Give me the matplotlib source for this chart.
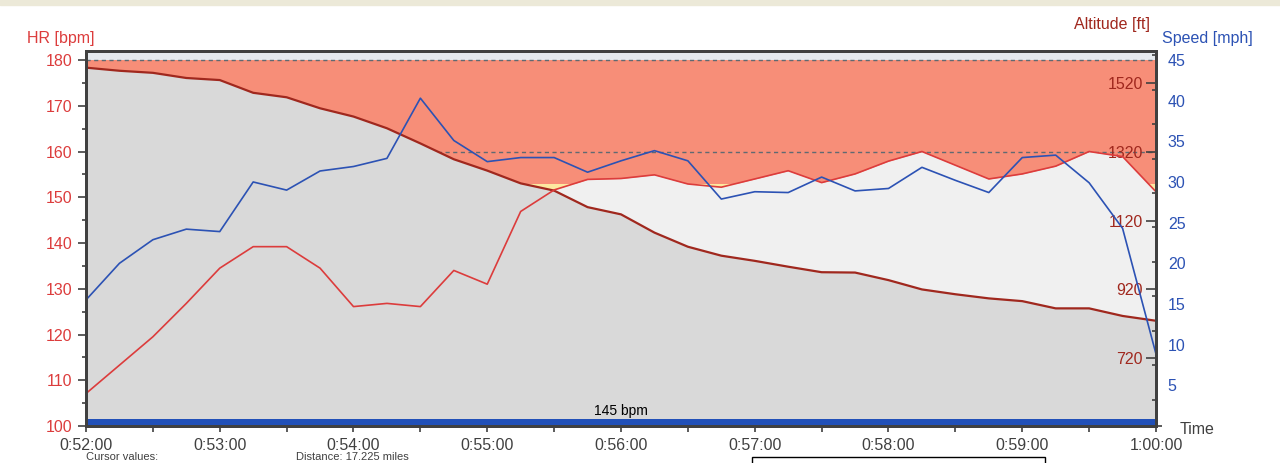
import numpy as np
import matplotlib
matplotlib.use('Agg')
import matplotlib.pyplot as plt
from matplotlib.patches import Rectangle
from matplotlib.ticker import FuncFormatter, MultipleLocator

plt.rcParams['font.family'] = ['Liberation Sans', 'DejaVu Sans']

# samples every 15 s from 0:52:00 to 1:00:00
start_s = 52 * 60
elapsed_s = np.arange(0, 481, 15)

hr_bpm = [107.1, 113.3, 119.5, 126.8, 134.5, 139.2, 139.2, 134.5, 126.1, 126.8, 126.1,
          134.0, 131.0, 146.9, 151.6, 153.9, 154.1, 154.9, 152.9, 152.2, 154.0, 155.8,
          153.2, 155.1, 157.9, 160.0, 157.0, 154.0, 155.1, 156.8, 160.0, 158.9, 151.2]
speed_mph = [15.5, 20.0, 22.9, 24.2, 23.9, 30.0, 29.0, 31.35, 31.9, 32.9, 40.3,
             35.1, 32.5, 33.0, 33.0, 31.2, 32.6, 33.85, 32.6, 27.9, 28.8, 28.7,
             30.6, 28.9, 29.2, 31.8, 30.2, 28.7, 33.0, 33.3, 29.9, 24.3, 8.85]
altitude_ft = [1564, 1555, 1549, 1534, 1528, 1491, 1478, 1446, 1422, 1388, 1344,
               1298, 1265, 1228, 1207, 1159, 1138, 1085, 1044, 1018, 1003, 986,
               970, 969, 947, 920, 906, 894, 886, 865, 865, 843, 829]

hr_ticks = list(range(100, 181, 10))
alt_ticks = [720, 920, 1120, 1320, 1520]
speed_ticks = list(range(5, 46, 5))
zone_upper = 153      # salmon zone starts here
zone_lower = 145      # yellow zone
avg_label = '145 bpm'

t = start_s + elapsed_s

C_HR = '#dc3c3c'
C_ALT = '#a0281e'
C_SPD = '#2c52b4'
C_FRAME = '#404040'

fig = plt.figure(figsize=(12.8, 4.63), dpi=100)
fig.patches.append(Rectangle((0, 1 - 5 / 463), 1, 5 / 463, transform=fig.transFigure,
                             color='#ece9d8', zorder=0))

rect = [86 / 1280, 37 / 463, 1070 / 1280, 375 / 463]
ax = fig.add_axes(rect)
ax.set_facecolor('#e5e9ee')
ax.set_xlim(t[0], t[-1])
ax.set_ylim(100, 181.97)

# HR zones above the HR curve
ax.axhspan(zone_upper, 180, color='#f78e78', lw=0, zorder=1)
ax.axhspan(zone_lower, zone_upper, color='#fde9a0', lw=0, zorder=1)
for lvl in (180, 160):
    ax.axhline(lvl, color='#5f6a72', lw=1, ls=(0, (3, 2.5)), zorder=1.5)
ax.fill_between(t, 100, hr_bpm, color='#f0f0f0', lw=0, zorder=2)

ax.set_yticks(hr_ticks)
ax.yaxis.set_minor_locator(MultipleLocator(5))
ax.tick_params(axis='y', which='major', direction='out', length=6, width=1.2,
               color=C_FRAME, labelcolor=C_HR, labelsize=11.5, pad=4)
ax.tick_params(axis='y', which='minor', direction='out', length=3, width=1.2, color=C_FRAME)

ax.xaxis.set_major_locator(MultipleLocator(60))
ax.xaxis.set_minor_locator(MultipleLocator(30))


def fmt_time(v, pos):
    v = int(round(v))
    return '%d:%02d:%02d' % (v // 3600, (v % 3600) // 60, v % 60)


ax.xaxis.set_major_formatter(FuncFormatter(fmt_time))
ax.tick_params(axis='x', which='both', direction='out', length=4, width=1.2,
               color=C_FRAME, labelcolor=C_FRAME, labelsize=11.5, pad=5)

# altitude
ax_alt = ax.twinx()
ax_alt.set_ylim(523.4, 1612.4)
ax_alt.fill_between(t, 0, altitude_ft, color='#d9d9d9', lw=0, zorder=1)
ax_alt.plot(t, altitude_ft, color=C_ALT, lw=1.6, zorder=2)
ax_alt.set_yticks(alt_ticks)
ax_alt.yaxis.set_minor_locator(MultipleLocator(100))
ax_alt.tick_params(axis='y', which='major', direction='in', length=7, width=1.2,
                   color=C_FRAME, labelcolor=C_ALT, labelsize=11.5, pad=-9.5)
ax_alt.tick_params(axis='y', which='minor', direction='in', length=3, width=1.2, color=C_FRAME)
for lab in ax_alt.get_yticklabels():
    lab.set_horizontalalignment('right')

# heart rate line
ax_hr = ax.twinx()
ax_hr.set_ylim(ax.get_ylim())
ax_hr.axhspan(100, 101.5, color='#2150b8', lw=0)
ax_hr.plot(t, hr_bpm, color=C_HR, lw=1.2)
ax_hr.text(0.5, 0.022, avg_label, transform=ax_hr.transAxes, ha='center', va='bottom',
           fontsize=10, color='black')
ax_hr.set_yticks([])

# speed
ax_spd = ax.twinx()
ax_spd.set_ylim(0, 46.1)
ax_spd.plot(t, speed_mph, color=C_SPD, lw=1.2)
ax_spd.set_yticks(speed_ticks)
ax_spd.yaxis.set_minor_locator(MultipleLocator(10))
ax_spd.tick_params(axis='y', which='major', length=0, labelcolor=C_SPD, labelsize=11.5, pad=8.5)
ax_spd.tick_params(axis='y', which='minor', direction='out', length=4.5, width=1.2, color=C_FRAME)

for a in (ax, ax_alt, ax_hr, ax_spd):
    for sp in a.spines.values():
        sp.set_color(C_FRAME)
        sp.set_linewidth(2)

fig.text(27 / 1280, 1 - 38.5 / 463, 'HR [bpm]', color=C_HR, fontsize=11.5, ha='left', va='center')
fig.text(1150 / 1280, 1 - 25 / 463, 'Altitude [ft]', color=C_ALT, fontsize=11.5, ha='right', va='center')
fig.text(1162 / 1280, 1 - 38.5 / 463, 'Speed [mph]', color=C_SPD, fontsize=11.5, ha='left', va='center')
fig.text(1180 / 1280, 1 - 430 / 463, 'Time', color=C_FRAME, fontsize=11.5, ha='left', va='center')

# cursor/summary strip under the chart (only its top edge shows)
fig.text(86 / 1280, 0.002, 'Cursor values:', color=C_FRAME, fontsize=8, ha='left', va='bottom')
fig.text(296 / 1280, 0.002, 'Distance: 17.225 miles', color=C_FRAME, fontsize=8,
         ha='left', va='bottom')
fig.patches.append(Rectangle((752 / 1280, -0.01), 293 / 1280, 0.01 + 6 / 463,
                             transform=fig.transFigure, facecolor='white',
                             edgecolor='black', lw=1))

fig.savefig('out.png', dpi=100)
